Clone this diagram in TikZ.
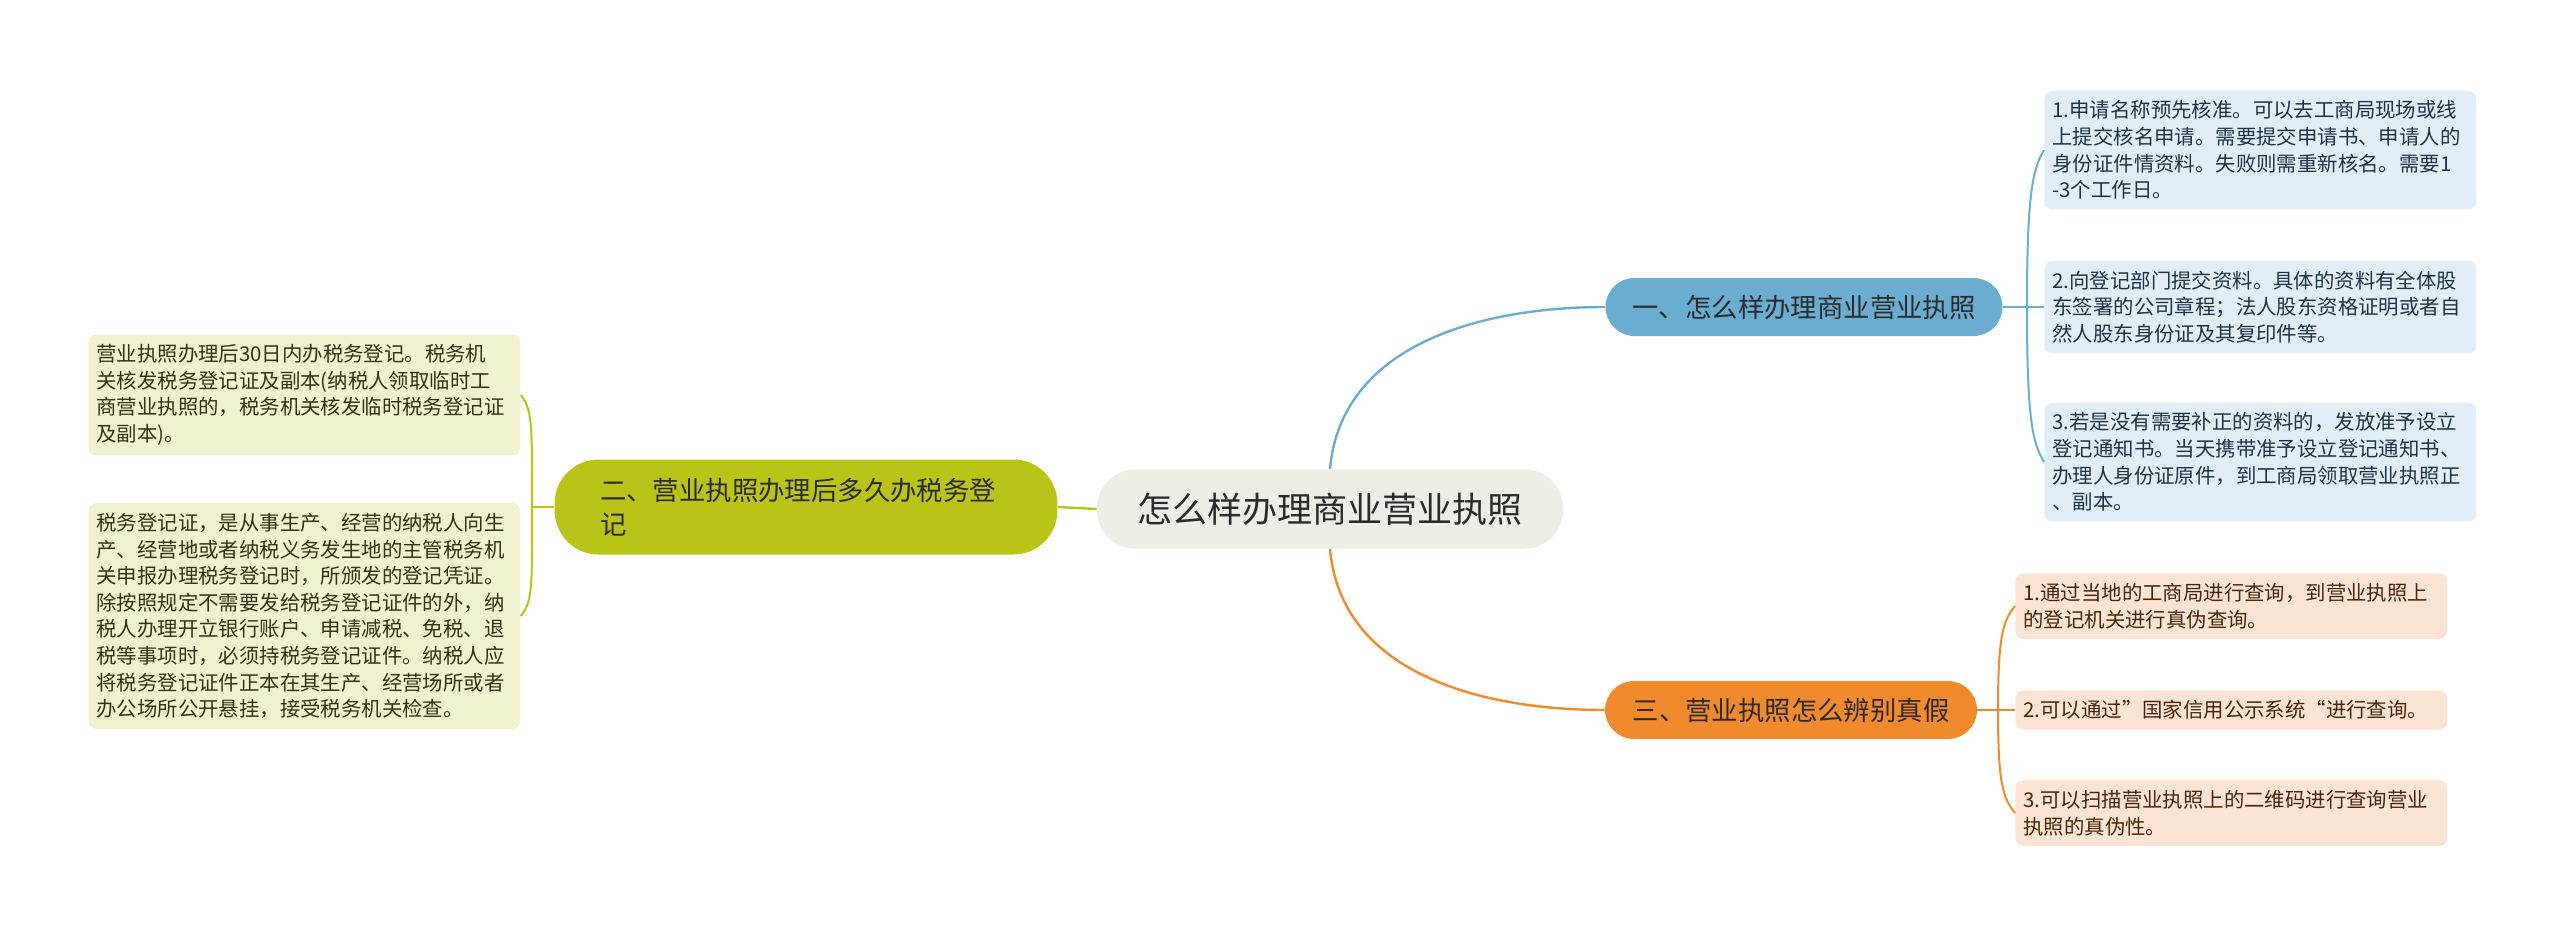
\documentclass[tikz,border=0pt]{standalone}
\usepackage{fontspec}
\setmainfont{Noto Sans CJK SC}
\usetikzlibrary{positioning}
\definecolor{rootColor}{HTML}{EDEDE6}
\definecolor{blueColor}{HTML}{6AADD1}
\definecolor{orangeColor}{HTML}{F08A2D}
\definecolor{oliveColor}{HTML}{BAC418}
\definecolor{blueLeaf}{HTML}{E1EEF7}
\definecolor{orangeLeaf}{HTML}{FCE4D5}
\definecolor{oliveLeaf}{HTML}{F0F1D0}
\definecolor{textDark}{HTML}{2B2B2B}
\definecolor{blueText}{HTML}{1E3446}
\definecolor{orangeText}{HTML}{4A2508}
\definecolor{oliveText}{HTML}{33330F}

\begin{document}
\begin{tikzpicture}[x=0.5pt,y=-0.5pt,
		root/.style={fill=rootColor, rounded corners=19pt, minimum width=233pt, minimum height=39.5pt, font=\fontsize{17.5}{21}\selectfont, text=textDark},
		branch/.style={rounded corners=14.5pt, minimum height=29pt, font=\fontsize{13.2}{17}\selectfont, text=textDark},
		leaf/.style={rounded corners=4pt, text width=208pt, inner xsep=4pt, inner ysep=5pt, align=left, anchor=west, font=\fontsize{10.2}{13.3}\selectfont},
		wire/.style={line width=1.2pt},
		twig/.style={line width=1pt}
		]
		\useasboundingbox (0,0) rectangle (2560,937);

		% Root and main branches
		\node[root] (root) at (1330,509) {怎么样办理商业营业执照};
		\node[branch, fill=blueColor, minimum width=198.5pt] (apply) at (1804,307) {一、怎么样办理商业营业执照};
		\node[branch, fill=oliveColor, rounded corners=22pt, minimum height=47.5pt, text width=206pt, inner xsep=22.7pt, align=left] (tax) at (806,507) {二、营业执照办理后多久办税务登\\记};
		\node[branch, fill=orangeColor, minimum width=186pt] (check) at (1791,710) {三、营业执照怎么辨别真假};

		% Leaves of branch one
		\node[leaf, fill=blueLeaf, text=blueText] (apply1) at (2044,150) {1.申请名称预先核准。可以去工商局现场或线\\上提交核名申请。需要提交申请书、申请人的\\身份证件情资料。失败则需重新核名。需要1\\-3个工作日。};
		\node[leaf, fill=blueLeaf, text=blueText] (apply2) at (2044,307) {2.向登记部门提交资料。具体的资料有全体股\\东签署的公司章程；法人股东资格证明或者自\\然人股东身份证及其复印件等。};
		\node[leaf, fill=blueLeaf, text=blueText] (apply3) at (2044,462) {3.若是没有需要补正的资料的，发放准予设立\\登记通知书。当天携带准予设立登记通知书、\\办理人身份证原件，到工商局领取营业执照正\\、副本。};

		% Leaves of branch two
		\node[leaf, fill=oliveLeaf, text=oliveText] (tax1) at (88,395) {营业执照办理后30日内办税务登记。税务机\\关核发税务登记证及副本(纳税人领取临时工\\商营业执照的，税务机关核发临时税务登记证\\及副本)。};
		\node[leaf, fill=oliveLeaf, text=oliveText] (tax2) at (88,616) {税务登记证，是从事生产、经营的纳税人向生\\产、经营地或者纳税义务发生地的主管税务机\\关申报办理税务登记时，所颁发的登记凭证。\\除按照规定不需要发给税务登记证件的外，纳\\税人办理开立银行账户、申请减税、免税、退\\税等事项时，必须持税务登记证件。纳税人应\\将税务登记证件正本在其生产、经营场所或者\\办公场所公开悬挂，接受税务机关检查。};

		% Leaves of branch three
		\node[leaf, fill=orangeLeaf, text=orangeText] (check1) at (2015,606) {1.通过当地的工商局进行查询，到营业执照上\\的登记机关进行真伪查询。};
		\node[leaf, fill=orangeLeaf, text=orangeText] (check2) at (2015,710) {2.可以通过”国家信用公示系统“进行查询。};
		\node[leaf, fill=orangeLeaf, text=orangeText] (check3) at (2015,813) {3.可以扫描营业执照上的二维码进行查询营业\\执照的真伪性。};

		% Root to branches
		\draw[wire, blueColor] (root.north) to[out=85, in=180] (apply.west);
		\draw[wire, orangeColor] (root.south) to[out=-85, in=180] (check.west);
		\draw[wire, oliveColor] (root.west) -- (tax.east);

		% Brackets
		\coordinate (applyJoin) at (2027,307);
		\draw[twig, blueColor] (apply.east) -- (apply2.west);
		\draw[twig, blueColor] (applyJoin) .. controls +(0,-110) and +(-12,20) .. (apply1.west);
		\draw[twig, blueColor] (applyJoin) .. controls +(0,110) and +(-12,-20) .. (apply3.west);

		\coordinate (checkJoin) at (1998,710);
		\draw[twig, orangeColor] (check.east) -- (check2.west);
		\draw[twig, orangeColor] (checkJoin) .. controls +(0,-75) and +(-12,15) .. (check1.west);
		\draw[twig, orangeColor] (checkJoin) .. controls +(0,75) and +(-12,-15) .. (check3.west);

		\coordinate (taxJoin) at (532,507);
		\draw[twig, oliveColor] (tax.west) -- (taxJoin);
		\draw[twig, oliveColor] (taxJoin) .. controls +(0,-80) and +(12,15) .. (tax1.east);
		\draw[twig, oliveColor] (taxJoin) .. controls +(0,80) and +(12,-15) .. (tax2.east);
	\end{tikzpicture}
\end{document}
